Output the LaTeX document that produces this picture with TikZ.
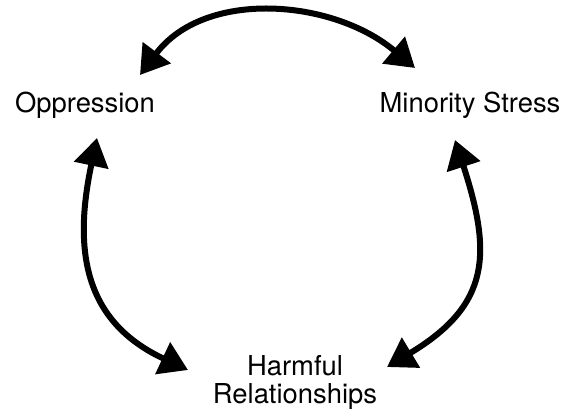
\documentclass[tikz,border=0pt]{standalone}
\usepackage{fontspec}
\setmainfont{TeX Gyre Heros}
\usepackage{tikz}
\usetikzlibrary{arrows.meta}

\begin{document}
\begin{tikzpicture}[
  x=0.5pt, y=0.5pt,
  every node/.style={font=\fontsize{13.7}{14}\selectfont},
  lbl/.style={inner sep=0pt, align=center},
  arr/.style={{Triangle[length=14pt,width=17pt]}-{Triangle[length=14pt,width=17pt]}, line width=3pt, black}
]
\useasboundingbox (0,0) rectangle (568,-418);

% ---- Labels ----
\node[lbl, anchor=base] (opp) at (85,-112) {Oppression};
\node[lbl, anchor=base] (mst) at (470,-112) {Minority Stress};
\node[lbl, anchor=north] (harm) at (295,-355) {Harmful\\Relationships};

% ---- Cycle arrows ----
\draw[arr] ([shift={(55,37)}]opp.base) to[out=53, in=140, looseness=1] ([shift={(-55,44)}]mst.base);
\draw[arr] ([shift={(-15,-28)}]mst.base) to[out=288, in=31, looseness=1.3] ([shift={(92,-12)}]harm.north);
\draw[arr] ([shift={(12,-26)}]opp.base) to[out=258, in=155, looseness=1.18] ([shift={(-107,-15)}]harm.north);

\end{tikzpicture}
\end{document}
